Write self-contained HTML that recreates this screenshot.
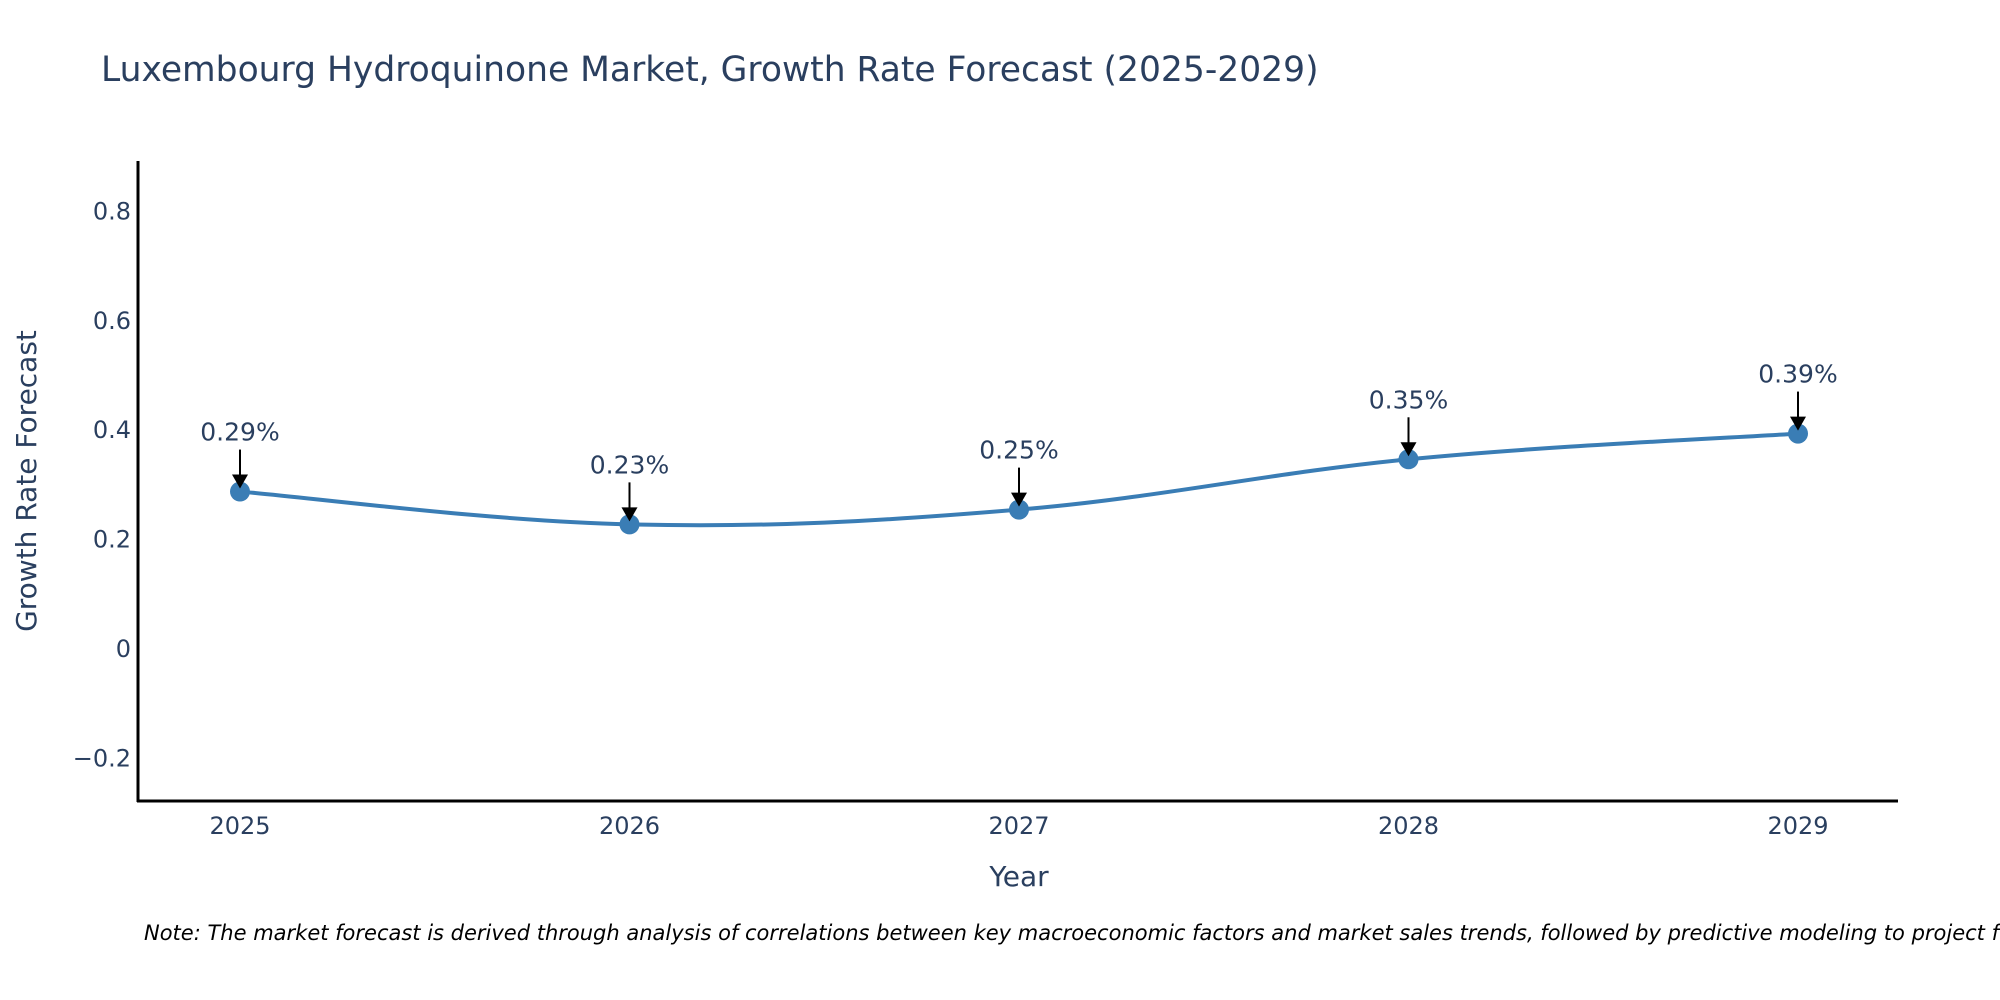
<!DOCTYPE html>
<html><head><meta charset="utf-8"><style>
body{margin:0;background:#fff;}
svg{display:block;font-family:"DejaVu Sans","Liberation Sans",sans-serif;}
</style></head><body>
<svg id="chart" width="2000" height="1000" viewBox="0 0 2000 1000">
<text x="101" y="81" font-size="34.5" fill="#2a3f5f">Luxembourg Hydroquinone Market, Growth Rate Forecast (2025-2029)</text>
<g id="yticks"></g>
<g id="xticks"></g>
<line x1="138" y1="161" x2="138" y2="802" stroke="#000" stroke-width="3"/>
<line x1="137" y1="801" x2="1898" y2="801" stroke="#000" stroke-width="3"/>
<text transform="translate(36,481) rotate(-90)" text-anchor="middle" font-size="28" fill="#2a3f5f">Growth Rate Forecast</text>
<text x="1019" y="886" text-anchor="middle" font-size="28" fill="#2a3f5f">Year</text>
<g id="series"></g>
<g id="annots"></g>
<text x="144" y="940" font-size="21" font-style="italic" fill="#000">Note: The market forecast is derived through analysis of correlations between key macroeconomic factors and market sales trends, followed by predictive modeling to project future sales.</text>
</svg>
<script>
const categories = [2025, 2026, 2027, 2028, 2029];
const values = [0.286, 0.226, 0.253, 0.345, 0.392];
const labels = ["0.29%", "0.23%", "0.25%", "0.35%", "0.39%"];
const yTicks = [-0.2, 0, 0.2, 0.4, 0.6, 0.8];
const yTickLabels = ["\u22120.2", "0", "0.2", "0.4", "0.6", "0.8"];

const NS = "http://www.w3.org/2000/svg";
function xs(i){ return 240 + i * 389.5; }
function ys(v){ return 648 - v * 547; }
function mk(tag, attrs, parent){ const e=document.createElementNS(NS,tag); for(const k in attrs) e.setAttribute(k,attrs[k]); parent.appendChild(e); return e; }

const yg=document.getElementById('yticks');
yTicks.forEach((t,i)=>{
  const e=mk('text',{x:131,y:ys(t)+9,'text-anchor':'end','font-size':24,fill:'#2a3f5f'},yg);
  
  
  e.textContent=yTickLabels[i];
});
const xg=document.getElementById('xticks');
categories.forEach((c,i)=>{
  const e=mk('text',{x:xs(i),y:834,'text-anchor':'middle','font-size':24,fill:'#2a3f5f'},xg);
  
  
  e.textContent=c;
});

const pts=values.map((v,i)=>[xs(i),ys(v)]);
let d=`M${pts[0][0]},${pts[0][1]}`;
const s=0.18;
for(let i=0;i<pts.length-1;i++){
  const p0=pts[Math.max(0,i-1)],p1=pts[i],p2=pts[i+1],p3=pts[Math.min(pts.length-1,i+2)];
  const c1=[p1[0]+(p2[0]-p0[0])*s,p1[1]+(p2[1]-p0[1])*s];
  const c2=[p2[0]-(p3[0]-p1[0])*s,p2[1]-(p3[1]-p1[1])*s];
  d+=` C${c1[0]},${c1[1]} ${c2[0]},${c2[1]} ${p2[0]},${p2[1]}`;
}
const sg=document.getElementById('series');
const line=mk('path',{d:d,fill:'none',stroke:'#3a7db5','stroke-width':4},sg);


pts.forEach(p=>{
  const c=mk('circle',{cx:p[0],cy:p[1],r:10,fill:'#3a7db5'},sg);
  
  
});

const ag=document.getElementById('annots');
pts.forEach((p,i)=>{
  const l=mk('line',{x1:p[0],y1:p[1]-42,x2:p[0],y2:p[1]-14,stroke:'#000','stroke-width':2},ag);
  
  
  const h=mk('polygon',{points:`${p[0]-8},${p[1]-17} ${p[0]+8},${p[1]-17} ${p[0]},${p[1]-3}`,fill:'#000'},ag);
  
  
  const t=mk('text',{x:p[0],y:p[1]-51,'text-anchor':'middle','font-size':25,fill:'#2a3f5f'},ag);
  
  
  t.textContent=labels[i];
});
</script>
</body></html>
